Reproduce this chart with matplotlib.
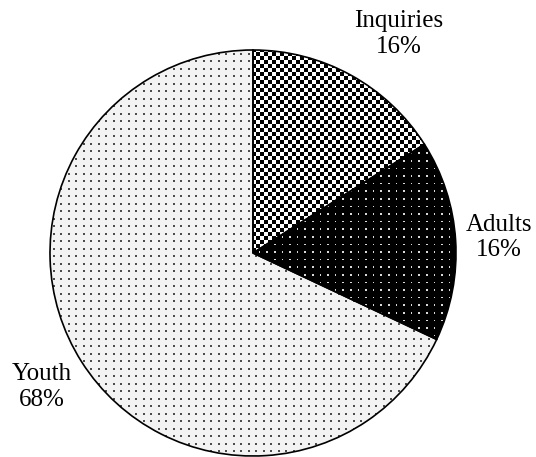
import numpy as np
import matplotlib
matplotlib.use('Agg')
from matplotlib import pyplot as plt

# data
labels = ['Inquiries', 'Adults', 'Youth']
shares = [16, 16, 68]

W, H = 536, 457
cx, cy, R = 253, 253, 203

fig = plt.figure(figsize=(W / 100, H / 100), dpi=100)
ax = fig.add_axes([0, 0, 1, 1])

wedges, _ = ax.pie(shares, startangle=90, counterclock=False, radius=R,
                   colors=['white'] * 3,
                   wedgeprops=dict(edgecolor='black', linewidth=1.2))
ax.set_aspect('auto')
ax.axis('off')

# pattern fills in pixel space
yy, xx = np.mgrid[0:H, 0:W]


def dots(period, size):
    mx = (xx % period) < size
    my = (yy % period) < size
    return mx & my


checker = ((np.floor(xx / 4.0) + np.floor(yy / 4.0)) % 2).astype(bool)
tex_inq = np.where(checker, 0.0, 1.0)
tex_adu = np.where(dots(7.6, 1.6), 0.85, 0.0)
tex_you = np.where(dots(7.5, 1.6), 0.3, 0.95)

extent = (-cx, W - cx, -(H - cy), cy)
for w, tex in zip(wedges, [tex_inq, tex_adu, tex_you]):
    im = ax.imshow(tex, cmap='gray', vmin=0, vmax=1, extent=extent,
                   origin='upper', interpolation='nearest', zorder=0.5)
    im.set_clip_path(w)
    w.set_facecolor('none')
    w.set_zorder(1)

ax.set_xlim(-cx, W - cx)
ax.set_ylim(-(H - cy), cy)

# labels: distance from centre (in radii) and pixel nudge
dist = [1.231, 1.214, 1.232]
nudge = [(25, 0), (0, 0), (0, 0)]
for w, lab, s, d, (nx, ny) in zip(wedges, labels, shares, dist, nudge):
    ang = np.deg2rad((w.theta1 + w.theta2) / 2)
    ax.text(R * d * np.cos(ang) + nx, R * d * np.sin(ang) + ny,
            f'{lab}\n{s}%', ha='center', va='center', fontsize=18,
            family='Liberation Serif', linespacing=1.2)

fig.savefig('out.png', dpi=100)
